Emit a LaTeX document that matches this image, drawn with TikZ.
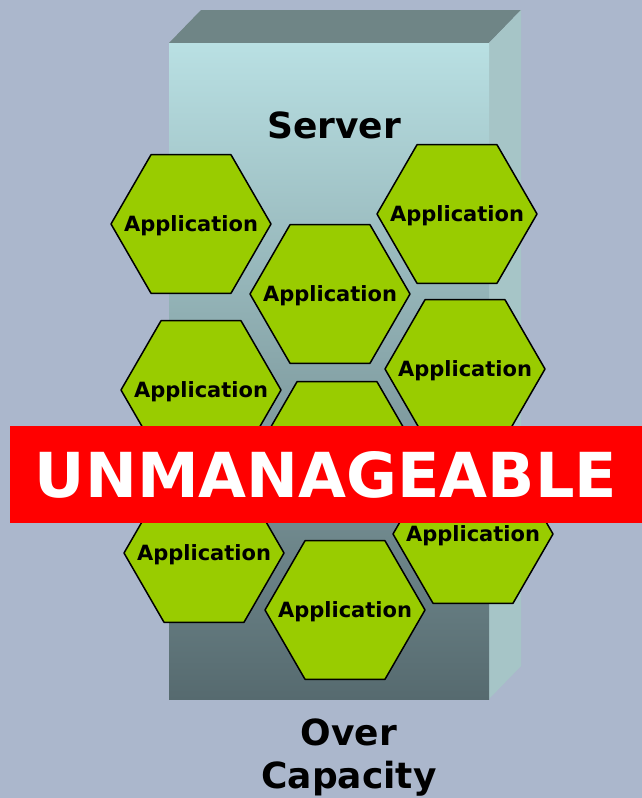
\documentclass[tikz,border=0pt]{standalone}
\usepackage{fontspec}
\setmainfont{DejaVu Sans}
\definecolor{bggray}{HTML}{ABB7CC}
\definecolor{topface}{HTML}{6F8586}
\definecolor{sideface}{HTML}{A6C5C7}
\definecolor{frontlight}{HTML}{B9E0E3}
\definecolor{frontdark}{HTML}{566A6F}
\definecolor{appgreen}{HTML}{99CC00}
\definecolor{bannerred}{HTML}{FF0000}

\begin{document}
\begin{tikzpicture}[x=1pt,y=-1pt,
	hexcell/.style={draw=black, line width=1.5pt, line join=round, fill=appgreen},
	applabel/.style={font=\bfseries\fontsize{21}{24}\selectfont, inner sep=0pt},
	bigtext/.style={font=\bfseries\fontsize{36}{43}\selectfont, align=center}]
			%%%	Sfondo
			\fill[bggray] (0,0) rectangle (642,798);
			\useasboundingbox (0,0) rectangle (642,798);
			%%%	Server
			\fill[topface] (169,43) -- (489,43) -- (521,10) -- (201,10) -- cycle;
			\fill[sideface] (489,43) -- (521,10) -- (521,666) -- (489,699) -- cycle;
			\shade[top color=frontlight, bottom color=frontdark] (169,43) rectangle (489,699);
			\node[bigtext] (server) at (334,125) {Server};
			%%%	Applicazioni
			\foreach \nm/\x/\y/\txt in {app1/191/224/Application, app2/457/214/Application,
					app3/330/294/Application, app4/201/390/Application, app5/465/369/Application,
					app6/337/451/{}, app7/204/553/Application, app8/473/534/Application,
					app9/345/610/Application}
			{
				\coordinate (\nm) at (\x,\y);
				\draw[hexcell] (\nm) ++(-80,0) -- ++(40,69.28) -- ++(80,0) -- ++(40,-69.28)
					-- ++(-40,-69.28) -- ++(-80,0) -- cycle;
				\node[applabel] (\nm-txt) at ([yshift=-2pt]\nm) {\txt};
			}
			%%%	Banner
			\node[fill=bannerred, minimum width=632pt, minimum height=97pt, inner sep=0pt,
				text=white, font=\bfseries\fontsize{62}{70}\selectfont] (banner) at (326,474.5) {UNMANAGEABLE};
			\node[bigtext] (capacity) at (349,758) {Over\\Capacity};
		\end{tikzpicture}
\end{document}
